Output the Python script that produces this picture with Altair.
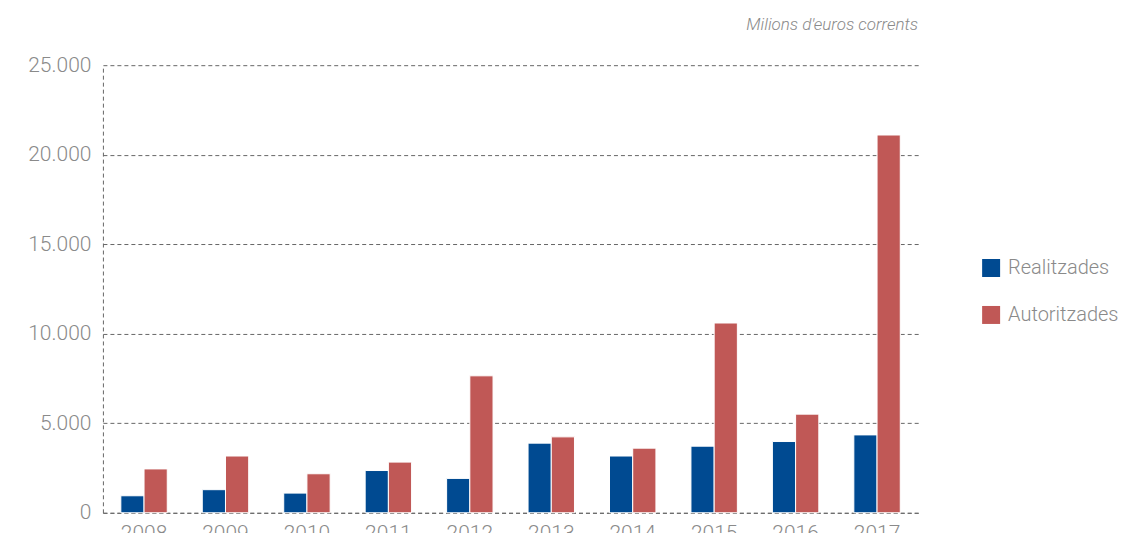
import altair as alt
import pandas as pd

years = ["2008", "2009", "2010", "2011", "2012", "2013", "2014", "2015", "2016", "2017"]
realitzades = [950, 1290, 1100, 2360, 1920, 3890, 3170, 3720, 3980, 4350]
autoritzades = [2450, 3170, 2180, 2830, 7650, 4240, 3610, 10600, 5510, 21100]
series = ["Realitzades", "Autoritzades"]
colors = ["#004a91", "#c05856"]

rows = []
for i, y in enumerate(years):
    rows.append({"any": y, "serie": series[0], "valor": realitzades[i]})
    rows.append({"any": y, "serie": series[1], "valor": autoritzades[i]})
df = pd.DataFrame(rows)

FONT = "Roboto"
GREY = "#8a8a8a"

chart = alt.Chart(df).mark_bar(stroke="white", strokeWidth=1).encode(
    x=alt.X("any:N", sort=years, title=None,
            scale=alt.Scale(paddingInner=0.43, paddingOuter=0.22),
            axis=alt.Axis(labelAngle=0, labelFontSize=21, labelColor=GREY, labelFont=FONT,
                          labelFontWeight=300, ticks=False, labelPadding=10,
                          domainDash=[4, 3], domainColor="#666", domainWidth=1)),
    xOffset=alt.XOffset("serie:N", sort=series, scale=alt.Scale(paddingInner=0)),
    y=alt.Y("valor:Q", title=None,
            scale=alt.Scale(domain=[0, 25000], nice=False),
            axis=alt.Axis(values=[0, 5000, 10000, 15000, 20000, 25000],
                          labelExpr="replace(format(datum.value, ',d'), ',', '.')",
                          labelFontSize=21, labelColor=GREY, labelFont=FONT, labelFontWeight=300,
                          ticks=False, labelPadding=12,
                          grid=True, gridDash=[4, 3], gridColor="#666", gridWidth=1,
                          domainDash=[4, 3], domainColor="#666", domainWidth=1)),
    color=alt.Color("serie:N", sort=series,
                    scale=alt.Scale(domain=series, range=colors),
                    legend=alt.Legend(title=None, orient="none", legendX=879, legendY=193,
                                      symbolType="square", symbolSize=324, symbolStrokeWidth=0,
                                      labelFontSize=20, labelColor=GREY, labelFont=FONT,
                                      labelFontWeight=300, labelOffset=7, rowPadding=27,
                                      padding=0)),
).properties(
    width=816, height=448,
    title=alt.TitleParams("Milions d'euros corrents", anchor="end", fontSize=17,
                          fontStyle="italic", fontWeight=300, font=FONT, color=GREY,
                          offset=20, frame="group"),
    autosize=alt.AutoSizeParams(type="none"),
    padding={"left": 95, "top": 57, "right": 205, "bottom": 20},
).configure_view(stroke=None)

chart.save("out.html", embed_options={"renderer": "svg", "actions": False})
